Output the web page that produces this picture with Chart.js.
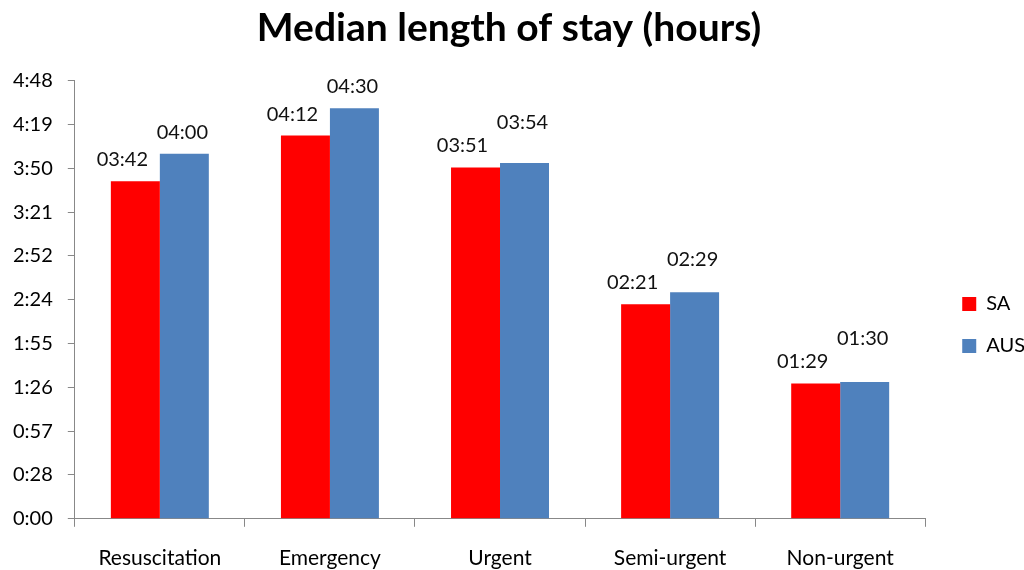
<!DOCTYPE html>
<html>
<head>
<meta charset="utf-8">
<script src="https://cdn.jsdelivr.net/npm/chart.js@4/dist/chart.umd.min.js"></script>
<style>
  html, body { margin: 0; padding: 0; background: #fff; }
  #wrap { width: 1024px; height: 570px; position: relative; }
</style>
</head>
<body>
<div id="wrap"><canvas id="losChart"></canvas></div>
<script>
// Data (menit)
const categories = ['Resuscitation', 'Emergency', 'Urgent', 'Semi-urgent', 'Non-urgent'];
const saValues = [222, 252, 231, 141, 89];
const ausValues = [240, 270, 234, 149, 90];
const tickValues = [0, 28.8, 57.6, 86.4, 115.2, 144, 172.8, 201.6, 230.4, 259.2, 288];
const tickLabels = ['0:00', '0:28', '0:57', '1:26', '1:55', '2:24', '2:52', '3:21', '3:50', '4:19', '4:48'];

const fontFam = 'Lato, "Open Sans", sans-serif';

function hhmm(v) {
    const h = Math.floor(v / 60);
    const m = Math.round(v - h * 60);
    return String(h).padStart(2, '0') + ':' + String(m).padStart(2, '0');
}

// label di atas tiap bar, label AUS naik kalau bertabrakan dengan label SA
const barLabels = {
    id: 'barLabels',
    afterDatasetsDraw(chart) {
        const ctx = chart.ctx;
        ctx.save();
        ctx.font = '20px ' + fontFam;
        ctx.fillStyle = '#111';
        ctx.textAlign = 'center';
        ctx.textBaseline = 'alphabetic';
        const saMeta = chart.getDatasetMeta(0).data;
        const ausMeta = chart.getDatasetMeta(1).data;
        saMeta.forEach((bar, j) => {
            const saY = bar.y - 15;
            let ausY = ausMeta[j].y - 15;
            if (ausY > saY - 23) ausY = saY - 23;
            ctx.fillText(hhmm(saValues[j]), bar.x - 13, saY);
            ctx.fillText(hhmm(ausValues[j]), ausMeta[j].x - 2, ausY);
        });
        ctx.restore();
    }
};

// geser legend sedikit ke kanan
const legendShift = {
    id: 'legendShift',
    afterLayout(chart) {
        if (chart.legend) {
            chart.legend.left += 15;
            chart.legend.right += 15;
        }
    }
};

new Chart(document.getElementById('losChart'), {
    type: 'bar',
    data: {
        labels: categories,
        datasets: [
            { label: 'SA', data: saValues, backgroundColor: '#ff0000', categoryPercentage: 0.576, barPercentage: 1.0 },
            { label: 'AUS', data: ausValues, backgroundColor: '#4f81bd', categoryPercentage: 0.576, barPercentage: 1.0 }
        ]
    },
    plugins: [barLabels, legendShift],
    options: {
        responsive: true,
        maintainAspectRatio: false,
        animation: false,
        layout: { padding: { left: -2, right: 4, top: 2, bottom: -20 } },
        plugins: {
            title: {
                display: true,
                text: 'Median length of stay (hours)',
                color: '#000',
                font: { family: fontFam, size: 39, weight: 'bold' },
                padding: { top: 3, bottom: 29 }
            },
            legend: {
                position: 'right',
                title: { display: true, text: ' ', font: { size: 10 }, padding: { top: 24, bottom: 22 } },
                labels: {
                    color: '#000',
                    font: { family: fontFam, size: 20 },
                    boxWidth: 14,
                    boxHeight: 14,
                    padding: 22
                }
            },
            tooltip: { enabled: false }
        },
        scales: {
            x: {
                grid: { display: true, drawOnChartArea: false, offset: true, tickLength: 8, color: '#888' },
                border: { color: '#888' },
                ticks: { color: '#000', font: { family: fontFam, size: 21 }, padding: 19 }
            },
            y: {
                min: 0,
                max: 288,
                afterBuildTicks(axis) {
                    axis.ticks = tickValues.map(v => ({ value: v }));
                },
                grid: { display: true, drawOnChartArea: false, tickLength: 7, color: '#888' },
                border: { color: '#888' },
                ticks: {
                    color: '#000',
                    font: { family: fontFam, size: 20 },
                    padding: 15,
                    callback: (v, i) => tickLabels[i]
                }
            }
        }
    }
});
</script>
</body>
</html>
